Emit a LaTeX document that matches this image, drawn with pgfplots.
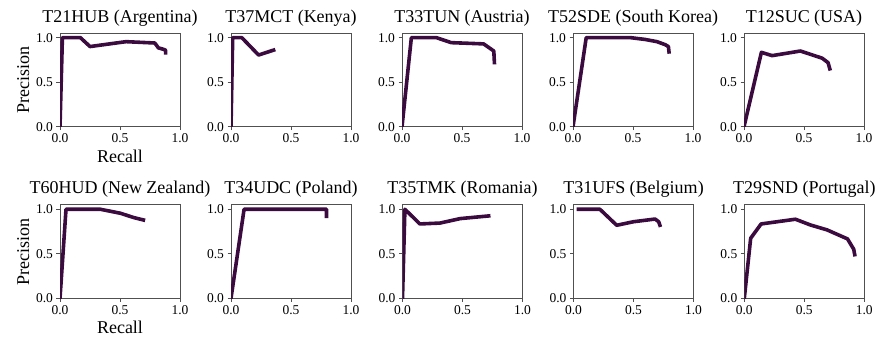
\documentclass[border=0pt]{standalone}
\usepackage{pgfplots}
\pgfplotsset{compat=1.18}
\usepackage{fontspec}
\setmainfont{Liberation Serif}
\definecolor{linec}{HTML}{3B0B3F}
\definecolor{framec}{HTML}{505050}
\pgfplotsset{
  prstyle/.style={
    scale only axis, width=120pt, height=93.5pt,
    xmin=0, xmax=1, ymin=0, ymax=1.05,
    xtick={0,0.5,1}, ytick={0,0.5,1},
    xticklabels={0.0,0.5,1.0}, yticklabels={0.0,0.5,1.0},
    xtick pos=bottom, ytick pos=left, tick align=outside,
    major tick length=3.5pt,
    axis line style={framec, line width=0.8pt},
    tick style={framec, line width=0.8pt},
    /pgf/number format/assume math mode=true,
    tick label style={font=\fontsize{13.5}{15}\selectfont, text=black},
    title style={font=\fontsize{18}{20}\selectfont, at={(0.5,1)}, anchor=base, yshift=5pt},
    label style={font=\fontsize{18}{20}\selectfont},
    anchor=north west,
  },
  prline/.style={linec, line width=3.6pt, line join=round, line cap=rect},
}
\begin{document}
\begin{tikzpicture}
\path[use as bounding box] (0,0) rectangle (883pt,-340pt);
% Row 1
\begin{axis}[prstyle, at={(60pt,-33.2pt)}, title={T21HUB (Argentina)}, xlabel={Recall}, ylabel={Precision}]
\addplot[prline] coordinates {(0,0) (0.02,1) (0.17,1) (0.25,0.90) (0.55,0.955) (0.79,0.94) (0.82,0.885) (0.86,0.87) (0.88,0.86) (0.88,0.83)};
\end{axis}
\begin{axis}[prstyle, at={(231pt,-33.2pt)}, title={T37MCT (Kenya)}]
\addplot[prline] coordinates {(0,0) (0.014,1) (0.09,1) (0.23,0.805) (0.355,0.86)};
\end{axis}
\begin{axis}[prstyle, at={(402pt,-33.2pt)}, title={T33TUN (Austria)}]
\addplot[prline] coordinates {(0,0) (0.078,1) (0.287,1) (0.41,0.944) (0.68,0.93) (0.765,0.85) (0.77,0.72)};
\end{axis}
\begin{axis}[prstyle, at={(573pt,-33.2pt)}, title={T52SDE (South Korea)}]
\addplot[prline] coordinates {(0,0) (0.11,1) (0.48,1) (0.6,0.98) (0.7,0.955) (0.77,0.92) (0.795,0.9) (0.8,0.84)};
\end{axis}
\begin{axis}[prstyle, at={(744pt,-33.2pt)}, title={T12SUC (USA)}]
\addplot[prline] coordinates {(0,0) (0.145,0.835) (0.234,0.798) (0.47,0.85) (0.65,0.77) (0.70,0.72) (0.715,0.65)};
\end{axis}
% Row 2
\begin{axis}[prstyle, at={(60pt,-204.8pt)}, title={T60HUD (New Zealand)}, xlabel={Recall}, ylabel={Precision}]
\addplot[prline] coordinates {(0,0) (0.05,1) (0.336,1) (0.504,0.955) (0.616,0.906) (0.695,0.88)};
\end{axis}
\begin{axis}[prstyle, at={(231pt,-204.8pt)}, title={T34UDC (Poland)}]
\addplot[prline] coordinates {(0,0) (0.109,1) (0.796,1) (0.796,0.92)};
\end{axis}
\begin{axis}[prstyle, at={(402.5pt,-204.8pt)}, title={T35TMK (Romania)}]
\addplot[prline] coordinates {(0,0) (0.02,1) (0.145,0.835) (0.313,0.845) (0.48,0.895) (0.718,0.925)};
\end{axis}
\begin{axis}[prstyle, at={(573.5pt,-204.8pt)}, title={T31UFS (Belgium)}]
\addplot[prline] coordinates {(0.04,1) (0.22,1) (0.36,0.82) (0.5,0.86) (0.68,0.89) (0.71,0.86) (0.72,0.82)};
\end{axis}
\begin{axis}[prstyle, at={(744.3pt,-204.8pt)}, title={T29SND (Portugal)}]
\addplot[prline] coordinates {(0,0) (0.053,0.674) (0.14,0.835) (0.426,0.888) (0.55,0.824) (0.69,0.768) (0.86,0.667) (0.912,0.55) (0.92,0.49)};
\end{axis}
\end{tikzpicture}
\end{document}
